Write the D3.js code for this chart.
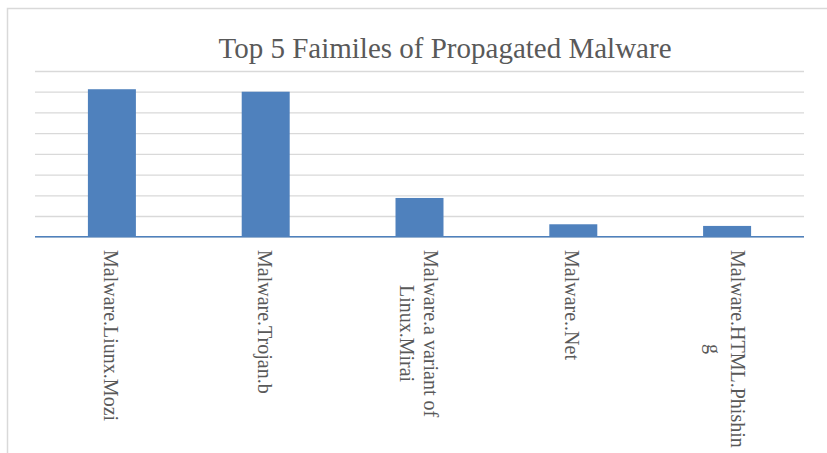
<!DOCTYPE html>
<html>
<head>
<meta charset="utf-8">
<script src="https://cdn.jsdelivr.net/npm/d3@7"></script>
<style>
  body { margin: 0; background: #fff; }
  text { font-family: "Liberation Serif", "Times New Roman", serif; fill: #595959; }
</style>
</head>
<body>
<div id="graph1"></div>
<script>
// chart data (gridline units)
let families = ["Malware.Liunx.Mozi", "Malware.Trojan.b", "Malware.a variant of Linux.Mirai", "Malware..Net", "Malware.HTML.Phishing"];
let labelLines = [["Malware.Liunx.Mozi"], ["Malware.Trojan.b"], ["Malware.a variant of", "Linux.Mirai"], ["Malware..Net"], ["Malware.HTML.Phishin", "g"]];
let counts = [7.12, 7.0, 1.87, 0.6, 0.52];
let yTicks = [0, 1, 2, 3, 4, 5, 6, 7, 8];

let width = 827, height = 453;
let plot = { left: 35, right: 804, top: 71, bottom: 236.7 };

let svg = d3.select("#graph1")
    .append("svg")
    .attr("width", width)
    .attr("height", height);

// outer chart frame (runs off the right/bottom edge)
svg.append("rect")
    .attr("x", 7.5).attr("y", 8.5)
    .attr("width", 840).attr("height", 470)
    .attr("fill", "none")
    .attr("stroke", "#d9d9d9")
    .attr("stroke-width", 1.5);

let x = d3.scaleBand()
    .domain(families)
    .range([plot.left, plot.right])
    .paddingInner(0.688)
    .paddingOuter(0.344);

let y = d3.scaleLinear()
    .domain([0, 8])
    .range([plot.bottom, plot.top]);

// gridlines
svg.append("g")
    .attr("transform", `translate(${plot.left}, 0)`)
    .call(d3.axisLeft(y).tickValues(yTicks).tickSize(-(plot.right - plot.left)).tickFormat(""))
    .call(g => g.select(".domain").remove())
    .call(g => g.selectAll("line").attr("stroke", "#d9d9d9").attr("stroke-width", 1.3));

svg.selectAll("rect.bar")
    .data(counts)
    .enter()
    .append("rect")
    .attr("class", "bar")
    .attr("fill", "#4f81bd")
    .attr("x", function(d, i) { return x(families[i]); })
    .attr("y", function(d) { return y(d); })
    .attr("width", x.bandwidth())
    .attr("height", function(d) { return y(0) - y(d); });

// baseline
svg.append("line")
    .attr("x1", plot.left).attr("x2", plot.right)
    .attr("y1", y(0)).attr("y2", y(0))
    .attr("stroke", "#4f81bd")
    .attr("stroke-width", 1.6);

// rotated category labels
let lineH = 24;
families.forEach(function(name, i) {
    let cx = x(name) + x.bandwidth() / 2;
    let lines = labelLines[i];
    let t = svg.append("text")
        .attr("transform", `translate(${cx}, 250) rotate(90)`)
        .style("font-size", "20px");
    let spans = lines.map(function(l, j) {
        return t.append("tspan")
            .attr("y", 8 - lineH * (lines.length - 1) / 2 + lineH * j)
            .text(l);
    });
    let maxLen = d3.max(spans, s => s.node().getComputedTextLength());
    spans.forEach(s => s.attr("x", maxLen / 2).attr("text-anchor", "middle"));
});

// title
svg.append("text")
    .attr("x", 445)
    .attr("y", 58)
    .style("text-anchor", "middle")
    .style("font-size", "29px")
    .text("Top 5 Faimiles of Propagated Malware");
</script>
</body>
</html>
